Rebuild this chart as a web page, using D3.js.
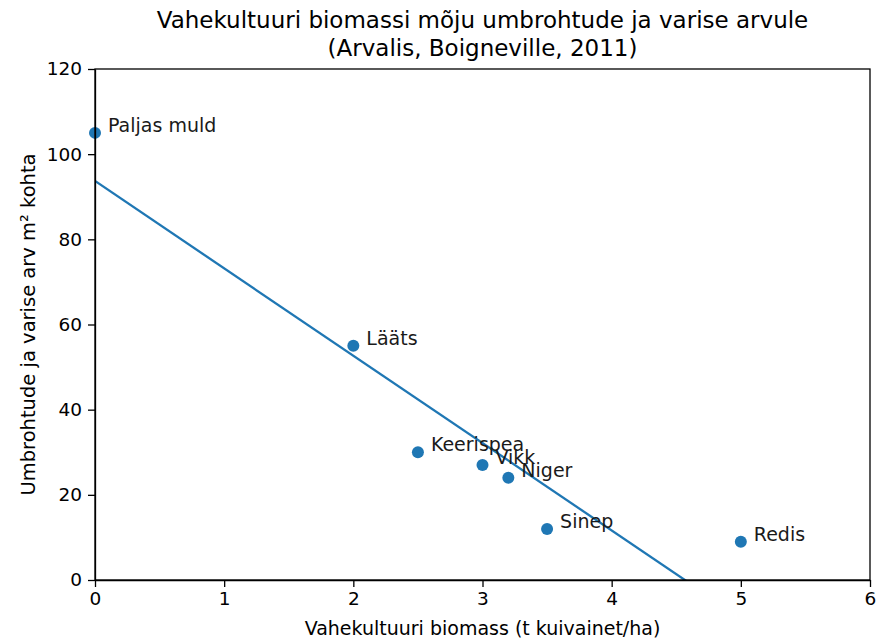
<!DOCTYPE html>
<html>
<head>
	<meta charset="utf-8">
	<title>Vahekultuuri biomass</title>
	<script src="https://cdn.jsdelivr.net/npm/d3@7"></script>
	<style>
		body {
			margin: 0;
			background: #fff;
			font-family: "DejaVu Sans", sans-serif;
		}

		.axis text {
			font-size: 18.5px;
			font-family: "DejaVu Sans", sans-serif;
			fill: #000;
		}

		.axis path,
		.axis line {
			stroke: #000;
			stroke-width: 1.3;
		}
	</style>
</head>

<body>
	<svg width="886" height="640"></svg>

	<script>
		// data
		var crops = ["Paljas muld", "Lääts", "Keerispea", "Vikk", "Niger", "Sinep", "Redis"];
		var biomass = [0, 2, 2.5, 3, 3.2, 3.5, 5];
		var weeds = [105, 55, 30, 27, 24, 12, 9];
		var xTicks = [0, 1, 2, 3, 4, 5, 6];
		var yTicks = [0, 20, 40, 60, 80, 100, 120];

		var svg = d3.select("svg"),
			margin = { top: 69, right: 16, bottom: 60, left: 95 },
			width = +svg.attr("width") - margin.left - margin.right,
			height = +svg.attr("height") - margin.top - margin.bottom;

		var blue = "#1f77b4";

		var x = d3.scaleLinear().domain([0, 6]).range([0, width]);
		var y = d3.scaleLinear().domain([0, 120]).range([height, 0]);

		var g = svg.append("g")
			.attr("transform", "translate(" + margin.left + "," + margin.top + ")");

		svg.append("defs").append("clipPath")
			.attr("id", "plot-clip")
			.append("rect")
			.attr("width", width)
			.attr("height", height);

		// least squares fit through the points
		var mx = d3.mean(biomass),
			my = d3.mean(weeds);
		var sxy = d3.sum(biomass, function(v, i) { return (v - mx) * (weeds[i] - my); });
		var sxx = d3.sum(biomass, function(v) { return (v - mx) * (v - mx); });
		var slope = sxy / sxx,
			intercept = my - slope * mx;

		g.append("line")
			.attr("clip-path", "url(#plot-clip)")
			.attr("x1", x(0))
			.attr("y1", y(intercept))
			.attr("x2", x(5))
			.attr("y2", y(intercept + slope * 5))
			.style("stroke", blue)
			.style("stroke-width", 2.3);

		var pts = crops.map(function(c, i) {
			return { name: c, x: biomass[i], y: weeds[i] };
		});

		g.selectAll("circle")
			.data(pts)
			.enter().append("circle")
			.attr("cx", function(d) { return x(d.x); })
			.attr("cy", function(d) { return y(d.y); })
			.attr("r", 6)
			.style("fill", blue);

		// point labels (they overlap around 3 t/ha, as in the original)
		g.selectAll(".lbl")
			.data(pts)
			.enter().append("text")
			.attr("class", "lbl")
			.attr("x", function(d) { return x(d.x) + 13; })
			.attr("y", function(d) { return y(d.y) - 1; })
			.style("font-size", "19px")
			.style("fill", "#1a1a1a")
			.text(function(d) { return d.name; });

		g.append("g")
			.attr("class", "axis")
			.attr("transform", "translate(0," + height + ")")
			.call(d3.axisBottom(x).tickValues(xTicks).tickFormat(d3.format("d")).tickSizeInner(7).tickSizeOuter(0).tickPadding(5));

		g.append("g")
			.attr("class", "axis")
			.call(d3.axisLeft(y).tickValues(yTicks).tickFormat(d3.format("d")).tickSizeInner(7).tickSizeOuter(0).tickPadding(6));

		// frame (right and top spines)
		g.append("rect")
			.attr("width", width)
			.attr("height", height)
			.style("fill", "none")
			.style("stroke", "#000")
			.style("stroke-width", 1.3);

		g.append("text")
			.attr("x", width / 2)
			.attr("y", height + 55)
			.attr("text-anchor", "middle")
			.style("font-size", "19px")
			.text("Vahekultuuri biomass (t kuivainet/ha)");

		g.append("text")
			.attr("transform", "translate(" + (-60) + "," + (height / 2) + ") rotate(-90)")
			.attr("text-anchor", "middle")
			.style("font-size", "19.5px")
			.text("Umbrohtude ja varise arv m² kohta");

		var title = svg.append("text")
			.attr("text-anchor", "middle")
			.style("font-size", "23px");

		title.append("tspan")
			.attr("x", margin.left + width / 2)
			.attr("y", 28)
			.text("Vahekultuuri biomassi mõju umbrohtude ja varise arvule");

		title.append("tspan")
			.attr("x", margin.left + width / 2)
			.attr("y", 56)
			.text("(Arvalis, Boigneville, 2011)");
	</script>
</body>

</html>
